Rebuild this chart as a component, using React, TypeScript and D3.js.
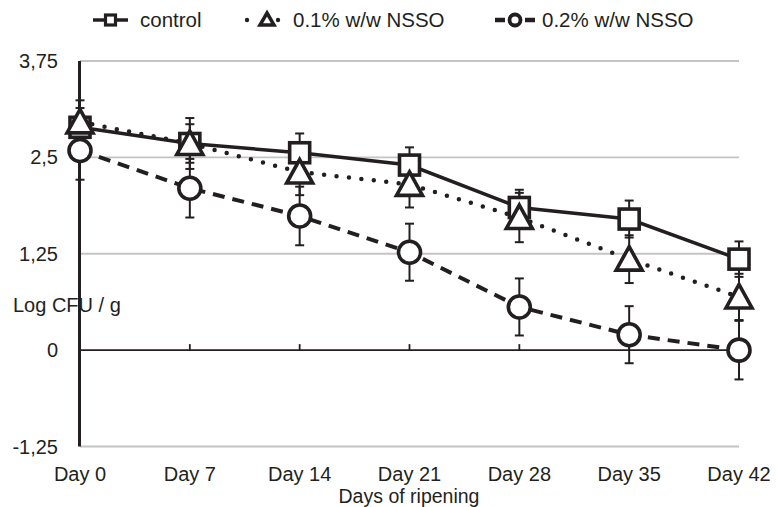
import React from "react";
import * as d3 from "d3";

const days = ["Day 0", "Day 7", "Day 14", "Day 21", "Day 28", "Day 35", "Day 42"];
const yTicks = [3.75, 2.5, 1.25, 0, -1.25];
const yTickLabels = ["3,75", "2,5", "1,25", "0", "-1,25"];

const controlVals = [2.89, 2.68, 2.56, 2.4, 1.85, 1.7, 1.18];
const controlErr = [0.25, 0.25, 0.25, 0.23, 0.23, 0.24, 0.23];
const nsso01Vals = [2.96, 2.68, 2.31, 2.15, 1.72, 1.18, 0.69];
const nsso01Err = [0.28, 0.33, 0.3, 0.3, 0.32, 0.31, 0.3];
const nsso02Vals = [2.59, 2.1, 1.74, 1.27, 0.56, 0.2, 0.0];
const nsso02Err = [0.38, 0.38, 0.38, 0.37, 0.37, 0.37, 0.38];

const seriesNames = ["control", "0.1% w/w NSSO", "0.2% w/w NSSO"];

const W = 776;
const H = 507;
const FONT = "'Liberation Sans', Arial, Helvetica, sans-serif";
const INK = "#231f20";

export default function App() {
  const x = d3.scalePoint<string>().domain(days).range([80, 739]);
  const y = d3.scaleLinear().domain([-1.25, 3.75]).range([446.5, 61]);

  const line = d3
    .line<number>()
    .x((_, i) => x(days[i]) as number)
    .y((d) => y(d));

  const series = [
    { vals: controlVals, err: controlErr, kind: "square", style: { strokeWidth: 3.5 } },
    { vals: nsso01Vals, err: nsso01Err, kind: "triangle", style: { strokeWidth: 4.5, strokeDasharray: "0 12.5", strokeLinecap: "round" as const } },
    { vals: nsso02Vals, err: nsso02Err, kind: "circle", style: { strokeWidth: 4, strokeDasharray: "12 8" } },
  ];

  const marker = (kind: string, cx: number, cy: number, key: string) => {
    if (kind === "square") {
      return <rect key={key} x={cx - 10} y={cy - 10} width={20} height={20} fill="#fff" stroke={INK} strokeWidth={3.6} />;
    }
    if (kind === "triangle") {
      const p = `M${cx},${cy - 12.5}L${cx + 13},${cy + 11}L${cx - 13},${cy + 11}Z`;
      return <path key={key} d={p} fill="#fff" stroke={INK} strokeWidth={3.6} strokeLinejoin="miter" />;
    }
    return <circle key={key} cx={cx} cy={cy} r={11} fill="#fff" stroke={INK} strokeWidth={3.6} />;
  };

  return (
    <svg width={W} height={H} style={{ position: "absolute", left: 0, top: 0 }} fontFamily={FONT}>
      <rect width={W} height={H} fill="#fff" />
      {yTicks.filter((t) => t !== 0).map((t) => (
        <line key={t} x1={80} x2={739} y1={y(t)} y2={y(t)} stroke="#c4c4c4" strokeWidth={1.8} />
      ))}
      {yTicks.map((t, i) => (
        <text key={t} x={58} y={y(t) + 7} textAnchor="end" fontSize={20} fill={INK}>
          {yTickLabels[i]}
        </text>
      ))}
      <text x={13} y={312} fontSize={20} fill={INK}>Log CFU / g</text>
      <line x1={80} x2={739} y1={y(0)} y2={y(0)} stroke={INK} strokeWidth={1.6} />
      {days.map((d) => (
        <line key={d} x1={x(d)} x2={x(d)} y1={y(0) - 6} y2={y(0)} stroke={INK} strokeWidth={1.8} />
      ))}
      <line x1={79.5} x2={79.5} y1={y(3.75)} y2={y(-1.25)} stroke={INK} strokeWidth={3} />
      {days.map((d) => (
        <text key={d} x={x(d)} y={481} textAnchor="middle" fontSize={20} fill={INK}>{d}</text>
      ))}
      <text x={409} y={503} textAnchor="middle" fontSize={19.5} fill={INK}>Days of ripening</text>
      {series.map((s, i) => (
        <path key={i} d={line(s.vals) || ""} fill="none" stroke={INK} {...s.style} />
      ))}
      {series.map((s, i) =>
        s.vals.map((v, j) => {
          const cx = x(days[j]) as number;
          const y1 = y(v + s.err[j]);
          const y2 = y(v - s.err[j]);
          return (
            <g key={`e${i}-${j}`} stroke={INK} strokeWidth={2}>
              <line x1={cx} x2={cx} y1={y1} y2={y2} />
              <line x1={cx - 4.5} x2={cx + 4.5} y1={y1} y2={y1} />
              <line x1={cx - 4.5} x2={cx + 4.5} y1={y2} y2={y2} />
            </g>
          );
        })
      )}
      {series.map((s, i) => s.vals.map((v, j) => marker(s.kind, x(days[j]) as number, y(v), `m${i}-${j}`)))}
      <g>
        <line x1={93} x2={128} y1={20} y2={20} stroke={INK} strokeWidth={3.5} />
        <rect x={105.5} y={15} width={10} height={10} fill="#fff" stroke={INK} strokeWidth={3.2} />
        <text x={140} y={27} fontSize={20.5} fill={INK}>{seriesNames[0]}</text>

        <circle cx={247} cy={20} r={2.2} fill={INK} />
        <circle cx={278} cy={20} r={2.2} fill={INK} />
        <path d="M267,13L274,25L260,25Z" fill="#fff" stroke={INK} strokeWidth={3.5} />
        <text x={293} y={27} fontSize={20.5} fill={INK}>{seriesNames[1]}</text>

        <line x1={495} x2={505} y1={20} y2={20} stroke={INK} strokeWidth={4.5} />
        <line x1={525} x2={535} y1={20} y2={20} stroke={INK} strokeWidth={4.5} />
        <circle cx={515} cy={20} r={5.5} fill="#fff" stroke={INK} strokeWidth={3.8} />
        <text x={542} y={27} fontSize={20.5} fill={INK}>{seriesNames[2]}</text>
      </g>
    </svg>
  );
}
